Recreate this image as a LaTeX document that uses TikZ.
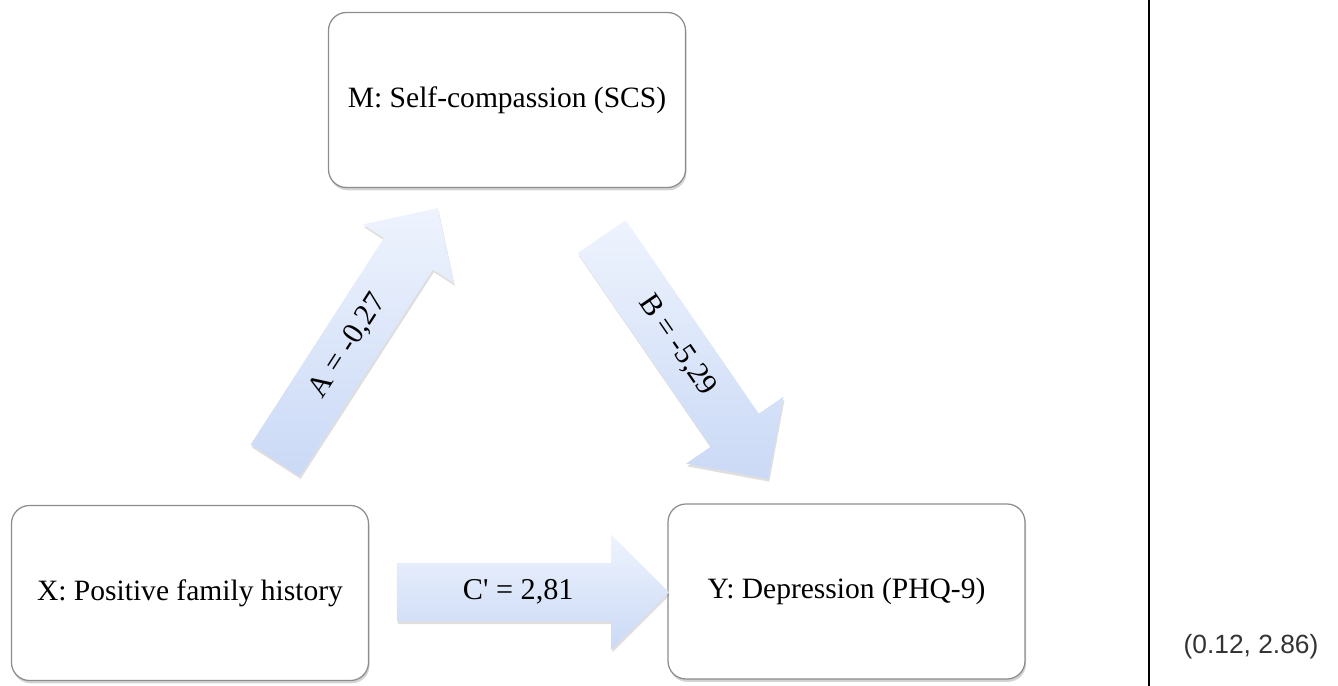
\documentclass[tikz,border=0pt]{standalone}
\usepackage{fontspec}
\setmainfont{Liberation Serif}
\newfontfamily\coordfont{Liberation Sans}
\usepackage{tikz}
\usetikzlibrary{shapes.arrows,shadows,calc}
\usetikzlibrary{positioning}
\definecolor{boxline}{HTML}{8C8C8C}
\definecolor{arrowtop}{HTML}{EEF3FD}
\definecolor{arrowbottom}{HTML}{CAD9F6}
\tikzset{
    var/.style={
           rectangle,
           rounded corners=0.36cm,
           draw=boxline, line width=0.7pt,
           fill=white,
           drop shadow={shadow xshift=0.6pt,shadow yshift=-1.6pt,opacity=0.35},
           minimum width=7.14cm,
           minimum height=3.5cm,
           font=\fontsize{16.8}{20}\selectfont,
           text centered,
           },
    effect/.style={
           single arrow,
           draw=none,
           top color=arrowtop, bottom color=arrowbottom,
           drop shadow={shadow xshift=0.6pt,shadow yshift=-1.6pt,opacity=0.25},
           single arrow head extend=#1,
           text height=0.42cm, text depth=0.13cm,
           inner xsep=0pt, inner ysep=0.3cm,
           font=\fontsize{17.2}{20}\selectfont,
           },
}

\begin{document}
\begin{tikzpicture}
   \useasboundingbox (0,0) rectangle (26.76,13.72);
   \node[var] (M) at (10.14,11.72) {M: Self-compassion (SCS)};
   \node[var] (X) at (3.8,1.86) {X: Positive family history};
   \node[var] (Y) at (16.93,1.89) {Y: Depression (PHQ-9)};

   % the three paths of the mediation model
   \node[effect=0.5cm,
 minimum height=6cm,
 rotate=57.2] (A) at ($(X)!0.5!(M)$) {A = -0,27};
   \node[effect=0.6cm,
 minimum height=5.88cm,
 rotate=-55.5] (B) at ($(M)!0.5!(Y)$) {B = -5,29};
   \node[effect=0.57cm,
 minimum height=5.44cm] (C) at ($(X.east)!0.5!(Y.west)$) {C\textquotesingle{} = 2,81};

   % divider and point readout
   \coordinate (top) at (22.98,13.72);
   \coordinate (bottom) at (22.98,0);
   \draw[line width=0.85pt] (top) -- (bottom);
   \node[font=\coordfont\fontsize{15}{18}\selectfont, text=black!80] (xy) at (25.02,0.78) {(0.12, 2.86)};
\end{tikzpicture}
\end{document}
